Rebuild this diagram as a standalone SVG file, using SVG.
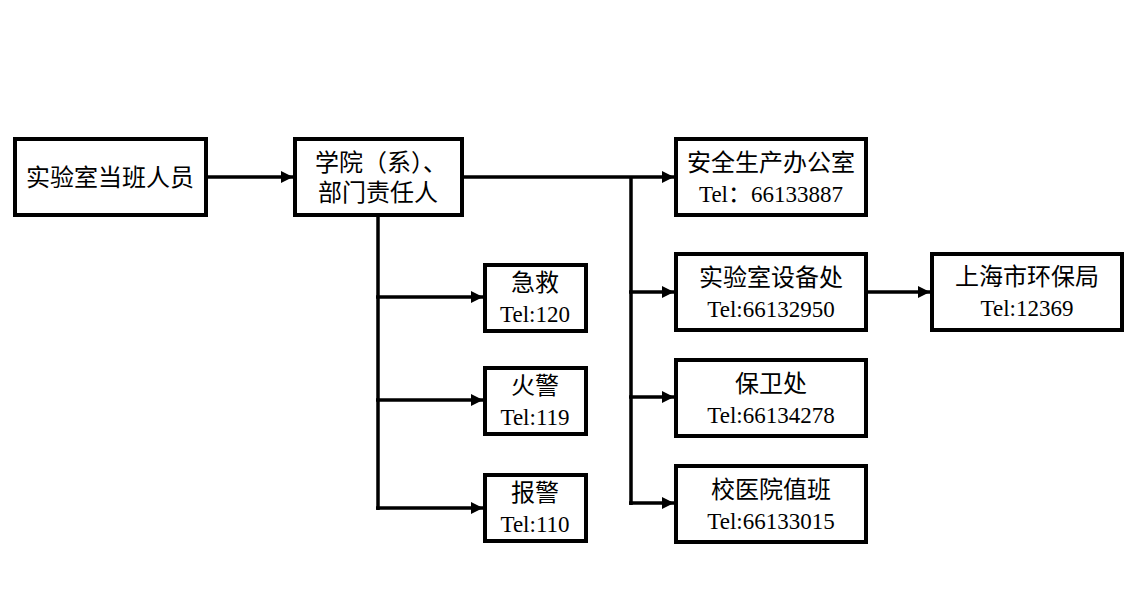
<svg xmlns="http://www.w3.org/2000/svg" width="1137" height="594" viewBox="0 0 1137 594">
<style>
.box{fill:#fff;stroke:#000;stroke-width:4}
.t{font-family:'Liberation Serif','Times New Roman','Noto Sans CJK SC',serif;font-size:23px;fill:#000;text-anchor:middle}
.z{font-size:24px}
.c{fill:none;stroke:#000;stroke-width:3.5}
</style>
<defs>
<marker id="ah" markerUnits="userSpaceOnUse" markerWidth="14" markerHeight="12" refX="12" refY="6" orient="auto">
<path d="M0,0 L12,6 L0,12 Z" fill="#000"/>
</marker>
</defs>
<rect width="1137" height="594" fill="#fff"/>
<g id="connectors">
<path class="c" d="M206,177 H293" marker-end="url(#ah)"/>
<path class="c" d="M462,177 H674" marker-end="url(#ah)"/>
<path class="c" d="M631,177 V505"/>
<path class="c" d="M629,292 H674" marker-end="url(#ah)"/>
<path class="c" d="M629,397 H674" marker-end="url(#ah)"/>
<path class="c" d="M629,503 H674" marker-end="url(#ah)"/>
<path class="c" d="M378,215 V510"/>
<path class="c" d="M376,297 H483" marker-end="url(#ah)"/>
<path class="c" d="M376,400 H483" marker-end="url(#ah)"/>
<path class="c" d="M376,508 H483" marker-end="url(#ah)"/>
<path class="c" d="M866,292 H930" marker-end="url(#ah)"/>
</g>
<g id="n1"><rect class="box" x="15" y="139" width="191" height="76"/><text class="t z" x="110" y="186">实验室当班人员</text></g>
<g id="n2"><rect class="box" x="295" y="139" width="167" height="76"/><text class="t z" x="381" y="171">学院（系）、</text><text class="t z" x="378" y="201">部门责任人</text></g>
<g id="n3"><rect class="box" x="676" y="139" width="190" height="76"/><text class="t z" x="771" y="171">安全生产办公室</text><text class="t" x="771" y="202">Tel：66133887</text></g>
<g id="n4"><rect class="box" x="676" y="254" width="190" height="76"/><text class="t z" x="771" y="286">实验室设备处</text><text class="t" x="771" y="317">Tel:66132950</text></g>
<g id="n5"><rect class="box" x="932" y="254" width="190" height="76"/><text class="t z" x="1027" y="285">上海市环保局</text><text class="t" x="1027" y="316">Tel:12369</text></g>
<g id="n6"><rect class="box" x="676" y="360" width="190" height="76"/><text class="t z" x="771" y="392">保卫处</text><text class="t" x="771" y="423">Tel:66134278</text></g>
<g id="n7"><rect class="box" x="676" y="466" width="190" height="76"/><text class="t z" x="771" y="498">校医院值班</text><text class="t" x="771" y="529">Tel:66133015</text></g>
<g id="n8"><rect class="box" x="485" y="265" width="101" height="66"/><text class="t z" x="535" y="291">急救</text><text class="t" x="535" y="322">Tel:120</text></g>
<g id="n9"><rect class="box" x="485" y="368" width="101" height="66"/><text class="t z" x="535" y="394">火警</text><text class="t" x="535" y="425">Tel:119</text></g>
<g id="n10"><rect class="box" x="485" y="475" width="101" height="66"/><text class="t z" x="535" y="501">报警</text><text class="t" x="535" y="532">Tel:110</text></g>
</svg>
